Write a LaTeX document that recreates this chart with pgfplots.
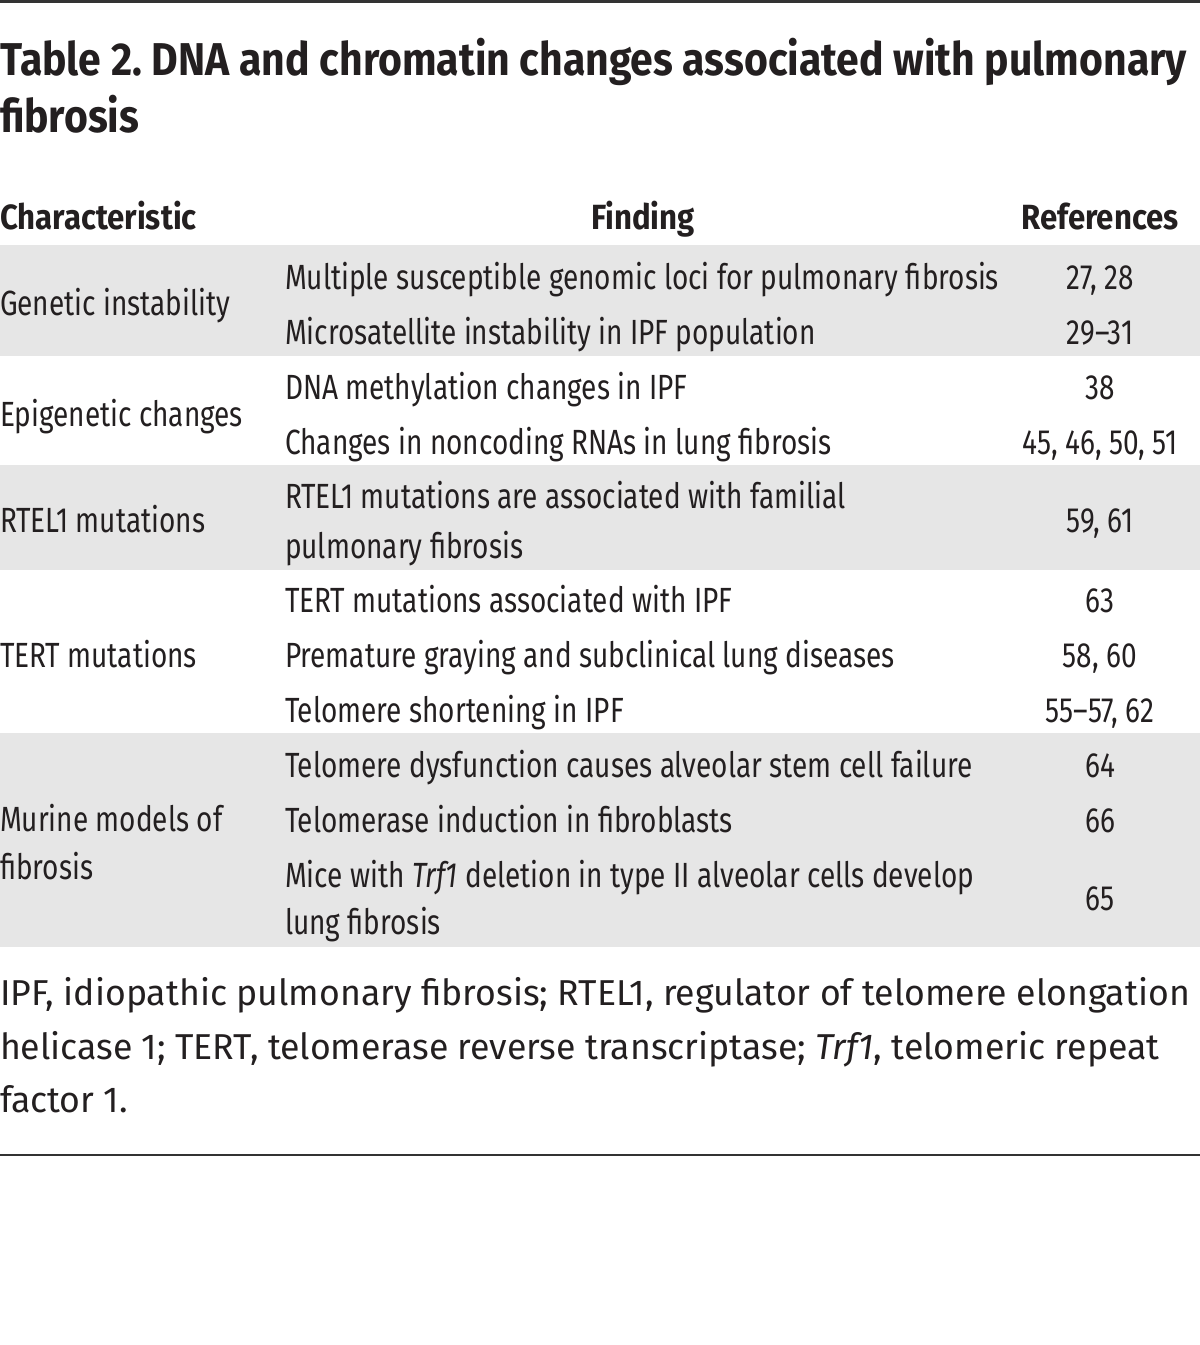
\documentclass[border=0pt]{standalone}
\usepackage{pgfplots}
\pgfplotsset{compat=1.18}
\usepackage{fontspec}
\newfontfamily\bodyfont[FakeStretch=0.80]{Fira Sans}
\newfontfamily\headfont[FakeStretch=0.89]{Fira Sans}
\newfontfamily\titlefont[FakeStretch=0.89]{Fira Sans}
\newfontfamily\notefont[FakeStretch=0.99]{Fira Sans}
\definecolor{txt}{HTML}{231F20}
\definecolor{band}{HTML}{E6E6E6}
\definecolor{rule}{HTML}{333333}
\frenchspacing
\newcommand{\bsz}{\bodyfont\fontsize{17.5}{24}\selectfont}
\newcommand{\hsz}{\headfont\bfseries\fontsize{17.5}{24}\selectfont}
\newcommand{\tsz}{\titlefont\bfseries\fontsize{23}{28}\selectfont}
\newcommand{\nsz}{\notefont\fontsize{18}{26}\selectfont}
\tikzset{cell/.style={text=txt, inner sep=0pt, outer sep=0pt}}
\begin{document}
\begin{tikzpicture}
\begin{axis}[name=ax, scale only axis, width=600pt, height=672.5pt,
  xmin=0, xmax=1200, ymin=0, ymax=1345, y dir=reverse, hide axis, clip=false]
% bands
\addplot[fill=band, draw=none] coordinates {(0,245) (1200,245) (1200,356) (0,356)} -- cycle;
\addplot[fill=band, draw=none] coordinates {(0,465) (1200,465) (1200,570) (0,570)} -- cycle;
\addplot[fill=band, draw=none] coordinates {(0,733) (1200,733) (1200,947) (0,947)} -- cycle;
% rules
\addplot[rule, line width=1.3pt] coordinates {(0,1.5) (1200,1.5)};
\addplot[rule, line width=1.1pt] coordinates {(0,1155) (1200,1155)};
% title
\node[cell, anchor=base west, font=\tsz] at (axis cs:0,75) {Table 2. DNA and chromatin changes associated with pulmonary};
\node[cell, anchor=base west, font=\tsz] at (axis cs:0,132) {fibrosis};
% header
\node[cell, anchor=base west, font=\hsz] at (axis cs:0,229) {Characteristic};
\node[cell, anchor=base, font=\hsz] at (axis cs:643,229) {Finding};
\node[cell, anchor=base, font=\hsz] at (axis cs:1100,229) {References};
% group 1
\node[cell, anchor=base west, font=\bsz] at (axis cs:0,315) {Genetic instability};
\node[cell, anchor=base west, font=\bsz] at (axis cs:285,289) {Multiple susceptible genomic loci for pulmonary fibrosis};
\node[cell, anchor=base, font=\bsz] at (axis cs:1100,289) {27, 28};
\node[cell, anchor=base west, font=\bsz] at (axis cs:285,344) {Microsatellite instability in IPF population};
\node[cell, anchor=base, font=\bsz] at (axis cs:1100,344) {29–31};
% group 2
\node[cell, anchor=base west, font=\bsz] at (axis cs:0,426) {Epigenetic changes};
\node[cell, anchor=base west, font=\bsz] at (axis cs:285,399) {DNA methylation changes in IPF};
\node[cell, anchor=base, font=\bsz] at (axis cs:1100,399) {38};
\node[cell, anchor=base west, font=\bsz] at (axis cs:285,454) {Changes in noncoding RNAs in lung fibrosis};
\node[cell, anchor=base, font=\bsz] at (axis cs:1100,454) {45, 46, 50, 51};
% group 3
\node[cell, anchor=base west, font=\bsz] at (axis cs:0,532) {RTEL1 mutations};
\node[cell, anchor=base west, font=\bsz] at (axis cs:285,508) {RTEL1 mutations are associated with familial};
\node[cell, anchor=base west, font=\bsz] at (axis cs:285,558) {pulmonary fibrosis};
\node[cell, anchor=base, font=\bsz] at (axis cs:1100,532) {59, 61};
% group 4
\node[cell, anchor=base west, font=\bsz] at (axis cs:0,667) {TERT mutations};
\node[cell, anchor=base west, font=\bsz] at (axis cs:285,612) {TERT mutations associated with IPF};
\node[cell, anchor=base, font=\bsz] at (axis cs:1100,612) {63};
\node[cell, anchor=base west, font=\bsz] at (axis cs:285,667) {Premature graying and subclinical lung diseases};
\node[cell, anchor=base, font=\bsz] at (axis cs:1100,667) {58, 60};
\node[cell, anchor=base west, font=\bsz] at (axis cs:285,722) {Telomere shortening in IPF};
\node[cell, anchor=base, font=\bsz] at (axis cs:1100,722) {55–57, 62};
% group 5
\node[cell, anchor=base west, font=\bsz] at (axis cs:0,831) {Murine models of};
\node[cell, anchor=base west, font=\bsz] at (axis cs:0,879) {fibrosis};
\node[cell, anchor=base west, font=\bsz] at (axis cs:285,777) {Telomere dysfunction causes alveolar stem cell failure};
\node[cell, anchor=base, font=\bsz] at (axis cs:1100,777) {64};
\node[cell, anchor=base west, font=\bsz] at (axis cs:285,832) {Telomerase induction in fibroblasts};
\node[cell, anchor=base, font=\bsz] at (axis cs:1100,832) {66};
\node[cell, anchor=base west, font=\bsz] at (axis cs:285,887) {Mice with \textit{Trf1} deletion in type II alveolar cells develop};
\node[cell, anchor=base west, font=\bsz] at (axis cs:285,934) {lung fibrosis};
\node[cell, anchor=base, font=\bsz] at (axis cs:1100,910) {65};
% footnote
\node[cell, anchor=base west, font=\nsz] at (axis cs:0,1005) {IPF, idiopathic pulmonary fibrosis; RTEL1, regulator of telomere elongation};
\node[cell, anchor=base west, font=\nsz] at (axis cs:0,1059) {helicase 1; TERT, telomerase reverse transcriptase; \textit{Trf1}, telomeric repeat};
\node[cell, anchor=base west, font=\nsz] at (axis cs:0,1112) {factor 1.};
\end{axis}
\pgfresetboundingbox
\path (ax.south west) rectangle (ax.north east);
\end{tikzpicture}
\end{document}
